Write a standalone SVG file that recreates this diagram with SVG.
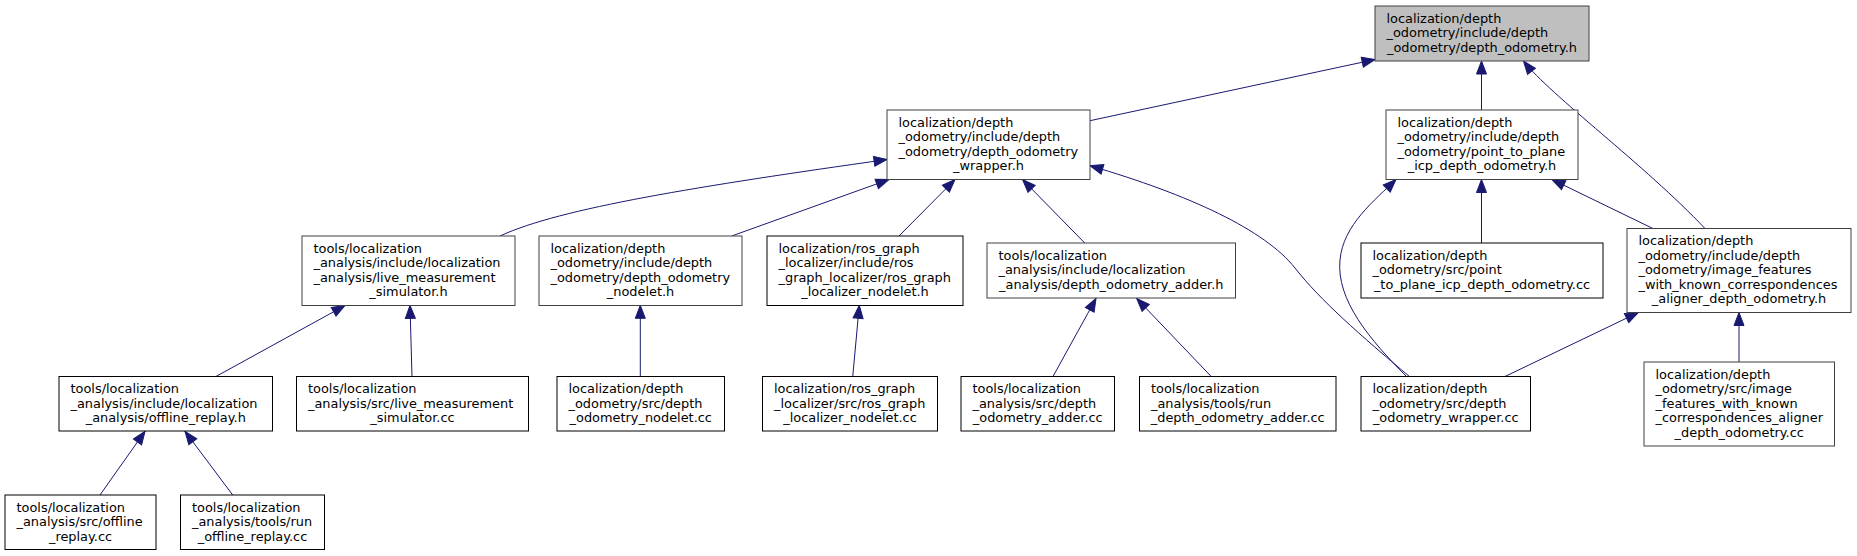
<svg xmlns="http://www.w3.org/2000/svg" width="1857" height="556" viewBox="0 0 1857 556">
<style>
rect{fill:#fff;stroke:#000;stroke-width:1}
rect.g{stroke:#404040}
rect.root{fill:#bfbfbf;stroke:#404040}
text{font-family:"DejaVu Sans",sans-serif;font-size:12.9px;fill:#000}
.m{text-anchor:middle}
#edges path{fill:none;stroke:#191970;stroke-width:1;marker-end:url(#arr)}
</style>
<defs>
<marker id="arr" markerUnits="userSpaceOnUse" markerWidth="16" markerHeight="12" refX="13" refY="5" orient="auto" overflow="visible">
<path d="M0,0 L13,5 L0,10 Z" fill="#191970" stroke="#191970" stroke-width="1"/>
</marker>
</defs>
<rect x="0" y="0" width="1857" height="556" style="fill:#fff;stroke:none"/>
<g id="edges">
<path d="M1090,120.7 L1375,59.5"/>
<path d="M1481.5,110 L1481.5,61"/>
<path d="M1705,228.5 C1645,165 1550,95 1523.5,61"/>
<path d="M500,236 C560,208 700,186 887,159.5"/>
<path d="M731.7,236 L889,179.5"/>
<path d="M899,236 L955,179.5"/>
<path d="M1085,243.3 L1022.5,179.5"/>
<path d="M1410,377 C1360,335 1320,300 1295,268 C1265,230 1190,195 1090,165.7"/>
<path d="M1481.5,243.3 L1481.5,179.5"/>
<path d="M1653.3,228.7 L1552,179.5"/>
<path d="M1407,377 C1370,340 1336,300 1340,260 C1343,225 1375,200 1396,179.5"/>
<path d="M1505,376.5 L1638.3,312.5"/>
<path d="M1739,362 L1739,312.5"/>
<path d="M215,377 L345,305.5"/>
<path d="M412,377 L410,305.3"/>
<path d="M640.3,377 L640.3,305.3"/>
<path d="M852.7,377 L859.3,305.3"/>
<path d="M1052.7,377 L1096,298.5"/>
<path d="M1211.7,377 L1136.7,298.5"/>
<path d="M100,495 L145,431.3"/>
<path d="M232.7,495 L185,431.3"/>
</g>
<g id="n_root">
<rect class="root" x="1375" y="6" width="214" height="55"/>
<text x="1386.5" y="22.5">localization/depth</text>
<text x="1386.5" y="37">_odometry/include/depth</text>
<text class="m" x="1482" y="51.5">_odometry/depth_odometry.h</text>
</g>
<g id="n_wrapper_h">
<rect class="g" x="887" y="110" width="203" height="69.5"/>
<text x="898.5" y="126.5">localization/depth</text>
<text x="898.5" y="141">_odometry/include/depth</text>
<text x="898.5" y="155.5">_odometry/depth_odometry</text>
<text class="m" x="988.5" y="170">_wrapper.h</text>
</g>
<g id="n_p2p_h">
<rect class="g" x="1386" y="110" width="192" height="69.5"/>
<text x="1397.5" y="126.5">localization/depth</text>
<text x="1397.5" y="141">_odometry/include/depth</text>
<text x="1397.5" y="155.5">_odometry/point_to_plane</text>
<text class="m" x="1482" y="170">_icp_depth_odometry.h</text>
</g>
<g id="n_livesim_h">
<rect class="g" x="302" y="236" width="213" height="69.5"/>
<text x="313.5" y="252.5">tools/localization</text>
<text x="313.5" y="267">_analysis/include/localization</text>
<text x="313.5" y="281.5">_analysis/live_measurement</text>
<text class="m" x="408.5" y="296">_simulator.h</text>
</g>
<g id="n_nodelet_h">
<rect class="g" x="539" y="236" width="203" height="69.5"/>
<text x="550.5" y="252.5">localization/depth</text>
<text x="550.5" y="267">_odometry/include/depth</text>
<text x="550.5" y="281.5">_odometry/depth_odometry</text>
<text class="m" x="640.5" y="296">_nodelet.h</text>
</g>
<g id="n_rosnodelet_h">
<rect x="767" y="236" width="196" height="69.5"/>
<text x="778.5" y="252.5">localization/ros_graph</text>
<text x="778.5" y="267">_localizer/include/ros</text>
<text x="778.5" y="281.5">_graph_localizer/ros_graph</text>
<text class="m" x="865" y="296">_localizer_nodelet.h</text>
</g>
<g id="n_adder_h">
<rect class="g" x="987" y="243" width="248.5" height="55"/>
<text x="998.5" y="259.5">tools/localization</text>
<text x="998.5" y="274">_analysis/include/localization</text>
<text class="m" x="1111.25" y="288.5">_analysis/depth_odometry_adder.h</text>
</g>
<g id="n_p2p_cc">
<rect x="1361" y="243" width="242" height="55"/>
<text x="1372.5" y="259.5">localization/depth</text>
<text x="1372.5" y="274">_odometry/src/point</text>
<text class="m" x="1482" y="288.5">_to_plane_icp_depth_odometry.cc</text>
</g>
<g id="n_imgfeat_h">
<rect class="g" x="1627" y="228.5" width="224" height="84"/>
<text x="1638.5" y="245">localization/depth</text>
<text x="1638.5" y="259.5">_odometry/include/depth</text>
<text x="1638.5" y="274">_odometry/image_features</text>
<text x="1638.5" y="288.5">_with_known_correspondences</text>
<text class="m" x="1739" y="303">_aligner_depth_odometry.h</text>
</g>
<g id="n_offline_h">
<rect x="59" y="376.5" width="213.5" height="54.5"/>
<text x="70.5" y="393">tools/localization</text>
<text x="70.5" y="407.5">_analysis/include/localization</text>
<text class="m" x="165.75" y="422">_analysis/offline_replay.h</text>
</g>
<g id="n_livesim_cc">
<rect x="296.5" y="376.5" width="232" height="54.5"/>
<text x="308" y="393">tools/localization</text>
<text x="308" y="407.5">_analysis/src/live_measurement</text>
<text class="m" x="412.5" y="422">_simulator.cc</text>
</g>
<g id="n_nodelet_cc">
<rect x="557" y="376.5" width="167.5" height="54.5"/>
<text x="568.5" y="393">localization/depth</text>
<text x="568.5" y="407.5">_odometry/src/depth</text>
<text class="m" x="640.75" y="422">_odometry_nodelet.cc</text>
</g>
<g id="n_rosnodelet_cc">
<rect x="762.5" y="376.5" width="175" height="54.5"/>
<text x="774" y="393">localization/ros_graph</text>
<text x="774" y="407.5">_localizer/src/ros_graph</text>
<text class="m" x="850" y="422">_localizer_nodelet.cc</text>
</g>
<g id="n_adder_cc">
<rect x="961" y="376.5" width="153.5" height="54.5"/>
<text x="972.5" y="393">tools/localization</text>
<text x="972.5" y="407.5">_analysis/src/depth</text>
<text class="m" x="1037.75" y="422">_odometry_adder.cc</text>
</g>
<g id="n_runadder_cc">
<rect x="1139.5" y="376.5" width="196.5" height="54.5"/>
<text x="1151" y="393">tools/localization</text>
<text x="1151" y="407.5">_analysis/tools/run</text>
<text class="m" x="1237.75" y="422">_depth_odometry_adder.cc</text>
</g>
<g id="n_wrapper_cc">
<rect x="1361" y="376.5" width="169.5" height="54.5"/>
<text x="1372.5" y="393">localization/depth</text>
<text x="1372.5" y="407.5">_odometry/src/depth</text>
<text class="m" x="1445.75" y="422">_odometry_wrapper.cc</text>
</g>
<g id="n_imgfeat_cc">
<rect class="g" x="1644" y="362" width="190.5" height="84"/>
<text x="1655.5" y="378.5">localization/depth</text>
<text x="1655.5" y="393">_odometry/src/image</text>
<text x="1655.5" y="407.5">_features_with_known</text>
<text x="1655.5" y="422">_correspondences_aligner</text>
<text class="m" x="1739.25" y="436.5">_depth_odometry.cc</text>
</g>
<g id="n_offline_cc">
<rect x="5" y="495" width="151" height="54.5"/>
<text x="16.5" y="511.5">tools/localization</text>
<text x="16.5" y="526">_analysis/src/offline</text>
<text class="m" x="80.5" y="540.5">_replay.cc</text>
</g>
<g id="n_runoffline_cc">
<rect x="180.5" y="495" width="144" height="54.5"/>
<text x="192" y="511.5">tools/localization</text>
<text x="192" y="526">_analysis/tools/run</text>
<text class="m" x="252.5" y="540.5">_offline_replay.cc</text>
</g>
</svg>
